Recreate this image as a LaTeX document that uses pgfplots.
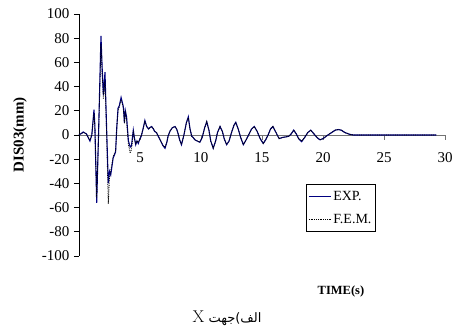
\documentclass[border=0pt]{standalone}
\usepackage{fontspec}
\setmainfont{Liberation Serif}
\newfontfamily\arabicfont[Script=Arabic]{DejaVu Sans}
\TeXXeTstate=1
\usepackage{pgfplots}
\pgfplotsset{compat=1.18}
\definecolor{expblue}{RGB}{0,0,128}
\begin{document}
\begin{tikzpicture}[x=1pt,y=1pt]
\path[use as bounding box] (0,0) rectangle (455,336);
\begin{axis}[
  at={(79pt,80pt)}, anchor=south west,
  scale only axis, width=366pt, height=242pt,
  xmin=0, xmax=30, ymin=-100, ymax=100,
  axis x line*=middle, axis y line*=left,
  xtick={0,5,...,30}, ytick={-100,-80,...,100},
  tick align=outside,
  major tick length=5pt,
  x axis line style={draw=gray!90!black, line width=0.9pt},
  y axis line style={draw=black, line width=0.8pt},
  x tick style={draw=gray!90!black, line width=0.8pt},
  y tick style={draw=black, line width=0.8pt},
  /pgf/number format/assume math mode=true,
  tick label style={font=\fontsize{15}{17}\selectfont},
  yticklabel style={xshift=-1pt},
  xticklabel style={yshift=-9pt},
  legend style={at={(0.62,0.2975)}, anchor=north west, draw=black, line width=0.6pt,
    font=\fontsize{14}{16}\selectfont, inner xsep=2pt, inner ysep=5pt, row sep=8pt},
  legend cell align=left,
  legend image code/.code={\draw[#1] (0pt,0pt) -- (22pt,0pt);},
  clip=false,
]
\addplot[expblue, line width=1.1pt] coordinates {
(0,0) (0.15,1) (0.35,2.5) (0.5,1.5) (0.6,1) (0.75,-2) (0.9,-5) (1.05,0) (1.23,21) (1.3,8) (1.45,-56)
(1.6,0) (1.8,82) (1.9,55) (2.0,33) (2.05,40) (2.13,52) (2.25,10) (2.4,-40) (2.5,-30) (2.6,-33) (2.8,-19) (3.0,-14)
(3.1,7) (3.2,22) (3.3,24) (3.45,31) (3.6,25) (3.65,22) (3.72,10) (3.8,20) (3.9,15) (4.05,-5) (4.2,-10) (4.3,-9)
(4.45,4) (4.55,-3) (4.65,-8) (4.75,-5) (4.86,-7) (5.0,-3) (5.1,-1) (5.25,5) (5.4,12) (5.55,7) (5.7,5) (5.8,6) (5.95,7)
(6.1,5) (6.2,3) (6.35,2) (6.5,-1) (6.7,-5) (6.9,-9) (7.05,-11) (7.2,-6) (7.3,-1) (7.45,3) (7.65,6) (7.87,7) (8.0,5) (8.1,2)
(8.25,-4) (8.4,-8) (8.6,0) (8.8,10) (8.96,15) (9.1,5) (9.24,-1) (9.35,-2) (9.5,-4) (9.7,-5) (9.9,-6) (10.1,-2) (10.3,6) (10.47,11)
(10.65,4) (10.8,-5) (11.0,-11) (11.2,-5) (11.35,2) (11.56,7) (11.75,3) (11.9,-3) (12.1,-8) (12.3,-5) (12.5,2) (12.7,8) (12.85,10.5)
(13.05,5) (13.25,-2) (13.47,-8) (13.7,-4) (13.95,1) (14.15,5) (14.37,7) (14.6,3) (14.85,-3) (15.1,-7) (15.3,-4) (15.5,0) (15.7,5) (15.9,7)
(16.1,3) (16.4,-3) (16.7,-2) (17.0,-1.5) (17.2,-1) (17.4,1) (17.6,4) (17.8,1) (18.0,-3) (18.25,-5.5) (18.5,-2) (18.75,2) (19.0,4)
(19.25,1) (19.5,-2) (19.75,-4) (20.0,-3) (20.4,0) (20.7,2) (21.0,4) (21.25,4.5) (21.5,4) (21.8,2) (22.2,0.5) (22.5,0) (29.3,0)
};
\addlegendentry{EXP.}
\addplot[black, densely dotted, line width=0.8pt] coordinates {
(0,0) (0.15,1) (0.35,2) (0.5,1.5) (0.6,1) (0.75,-2) (0.9,-4) (1.05,0) (1.23,18) (1.3,6) (1.45,-52)
(1.6,-2) (1.8,75) (1.9,50) (2.0,30) (2.05,35) (2.13,45) (2.25,5) (2.4,-57) (2.5,-35) (2.6,-30) (2.8,-18) (3.0,-13)
(3.1,6) (3.2,20) (3.3,23) (3.45,29) (3.6,24) (3.65,20) (3.72,12) (3.8,18) (3.9,12) (4.05,-8) (4.2,-15) (4.3,-12)
(4.45,2) (4.55,-3) (4.65,-7) (4.75,-5) (4.86,-6) (5.0,-3) (5.1,-1) (5.25,5) (5.4,11) (5.55,7) (5.7,5) (5.8,6) (5.95,7)
(6.1,5) (6.2,3) (6.35,2) (6.5,-1) (6.7,-5) (6.9,-9) (7.05,-10) (7.2,-6) (7.3,-1) (7.45,3) (7.65,6) (7.87,7) (8.0,5) (8.1,2)
(8.25,-4) (8.4,-8) (8.6,0) (8.8,10) (8.96,14) (9.1,5) (9.24,-1) (9.35,-2) (9.5,-4) (9.7,-5) (9.9,-6) (10.1,-2) (10.3,6) (10.47,11)
(10.65,4) (10.8,-5) (11.0,-11) (11.2,-5) (11.35,2) (11.56,7) (11.75,3) (11.9,-3) (12.1,-8) (12.3,-5) (12.5,2) (12.7,8) (12.85,10)
(13.05,5) (13.25,-2) (13.47,-8) (13.7,-4) (13.95,1) (14.15,5) (14.37,7) (14.6,3) (14.85,-3) (15.1,-7) (15.3,-4) (15.5,0) (15.7,5) (15.9,7)
(16.1,3) (16.4,-3) (16.7,-2) (17.0,-1.5) (17.2,-1) (17.4,1) (17.6,4) (17.8,1) (18.0,-3) (18.25,-5) (18.5,-2) (18.75,2) (19.0,4)
(19.25,1) (19.5,-2) (19.75,-4) (20.0,-3) (20.4,0) (20.7,2) (21.0,4) (21.25,4.5) (21.5,4) (21.8,2) (22.2,0.5) (22.5,0) (29.3,0)
};
\addlegendentry{F.E.M.}
\end{axis}
\node[rotate=90, font=\bfseries\fontsize{15}{17}\selectfont] at (20,201) {DIS03(mm)};
\node[font=\bfseries\fontsize{12.5}{15}\selectfont] at (341,45) {TIME(s)};
\node at (227,18) {\arabicfont\fontsize{13}{15}\selectfont\beginR الف)جهت {\fontspec{Latin Modern Roman}\fontsize{17}{19}\selectfont X}\endR};
\end{tikzpicture}
\end{document}
